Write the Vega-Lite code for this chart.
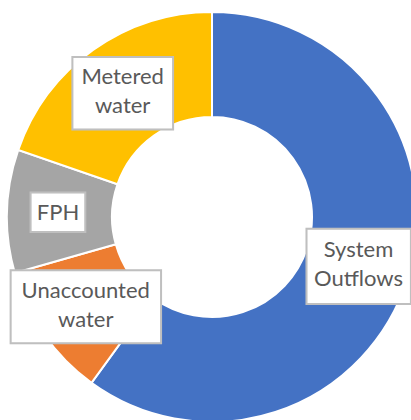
{
  "$schema": "https://vega.github.io/schema/vega-lite/v6.json",
  "width": 424,
  "height": 434,
  "autosize": "none",
  "padding": 0,
  "background": "white",
  "view": {"stroke": null},
  "data": {
    "values": [
      {"label": "System Outflows", "value": 60.0, "i": 1},
      {"label": "Unaccounted water", "value": 10.6, "i": 2},
      {"label": "FPH", "value": 9.7, "i": 3},
      {"label": "Metered water", "value": 19.7, "i": 4}
    ]
  },
  "encoding": {
    "theta": {"field": "value", "type": "quantitative", "stack": true},
    "order": {"field": "i", "type": "quantitative"}
  },
  "layer": [
    {
      "mark": {"type": "arc", "outerRadius": 205, "innerRadius": 100, "stroke": "white", "strokeWidth": 2},
      "encoding": {
        "color": {
          "field": "label",
          "type": "nominal",
          "scale": {
            "domain": ["System Outflows", "Unaccounted water", "FPH", "Metered water"],
            "range": ["#4472C4", "#ED7D31", "#A5A5A5", "#FFC000"]
          },
          "legend": null
        }
      }
    },
    {
      "mark": {"type": "text", "radius": 154, "font": "DejaVu Sans Mono", "fill": "white", "stroke": "#BFBFBF", "strokeWidth": 2, "align": "center", "baseline": "alphabetic", "dy": -3},
      "encoding": {
        "text": {"condition": {"test": "datum.label === 'Unaccounted water'", "value": ""}, "value": "▃"},
        "size": {"condition": [{"test": "datum.label === 'FPH'", "value": 88}, {"test": "datum.label === 'System Outflows'", "value": 168}], "value": 162}
      }
    },
    {
      "mark": {"type": "text", "radius": 154, "font": "DejaVu Sans Mono", "fontSize": 242, "fill": "white", "stroke": "#BFBFBF", "strokeWidth": 2, "align": "center", "baseline": "alphabetic", "dy": -22},
      "encoding": {
        "text": {"condition": {"test": "datum.label === 'Unaccounted water'", "value": "▂"}, "value": ""}
      }
    },
    {
      "mark": {"type": "text", "radius": 154, "font": "Lato", "fontSize": 22, "lineHeight": 29, "lineBreak": " ", "fill": "#595959", "align": "center", "baseline": "middle", "dy": -14.5},
      "encoding": {
        "text": {"field": "label", "type": "nominal", "condition": {"test": "datum.label === 'FPH'", "value": ""}}
      }
    },
    {
      "mark": {"type": "text", "radius": 154, "font": "Lato", "fontSize": 22, "fill": "#595959", "align": "center", "baseline": "middle"},
      "encoding": {
        "text": {"condition": {"test": "datum.label === 'FPH'", "field": "label", "type": "nominal"}, "value": ""}
      }
    }
  ]
}
